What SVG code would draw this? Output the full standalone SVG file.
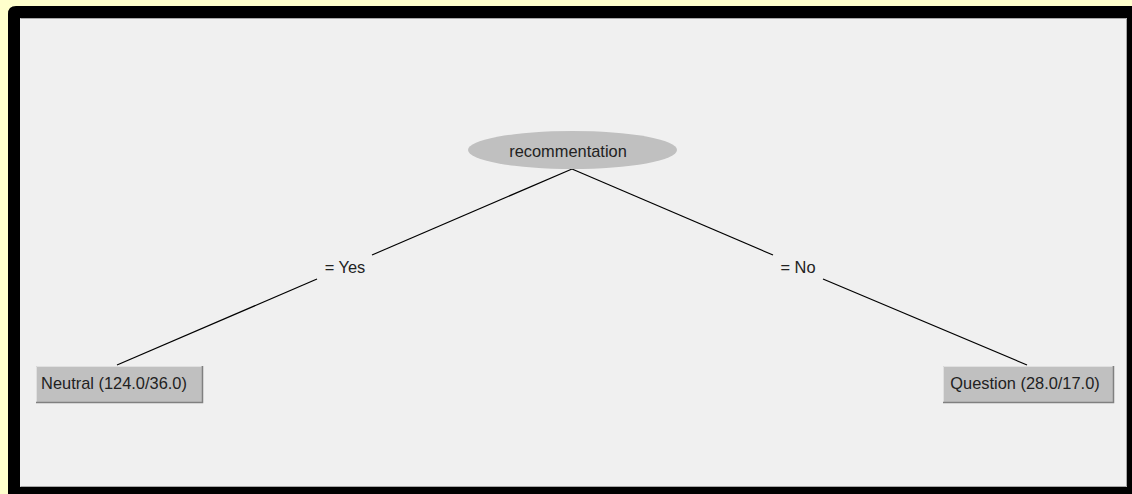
<svg xmlns="http://www.w3.org/2000/svg" width="1132" height="494" viewBox="0 0 1132 494">
  <style>
    .t { font-family: "Liberation Sans", Arial, sans-serif; font-size: 16.4px; fill: #222222; text-anchor: middle; }
    .edge { stroke: #000000; stroke-width: 1.2; fill: none; }
    .leaf { fill: #c0c0c0; }
  </style>
  <rect x="0" y="0" width="1132" height="494" fill="#ffffcc"/>
  <path d="M8 14 Q8 6 16 6 H1132 V494 H8 Z" fill="#000000"/>
  <rect x="20" y="18" width="1107" height="469" fill="#f0f0f0"/>
  <path d="M20.5 18.5 H1126.5 V486.5 H20.5" fill="none" stroke="#a8a8a8" stroke-width="1"/>

  <g id="connectors">
    <line class="edge" x1="572" y1="169" x2="372" y2="255"/>
    <line class="edge" x1="317" y1="279" x2="117" y2="365"/>
    <line class="edge" x1="572" y1="169" x2="773" y2="255"/>
    <line class="edge" x1="823" y1="279" x2="1027" y2="365"/>
    <text class="t" x="345" y="273">= Yes</text>
    <text class="t" x="798" y="273">= No</text>
  </g>

  <g id="node-root">
    <ellipse cx="572.5" cy="150" rx="104.5" ry="19" fill="#c0c0c0"/>
    <text class="t" x="568" y="157">recommentation</text>
  </g>

  <g id="node-neutral">
    <rect class="leaf" x="36" y="366" width="166" height="37"/>
    <path d="M36.5 402.5 V366.5 H201.5" fill="none" stroke="#e0e0e0" stroke-width="1"/>
    <path d="M36 402.5 H202.5 V366" fill="none" stroke="#808080" stroke-width="1.5"/>
    <text class="t" x="114" y="389">Neutral (124.0/36.0)</text>
  </g>

  <g id="node-question">
    <rect class="leaf" x="943" y="366" width="170" height="37"/>
    <path d="M943.5 402.5 V366.5 H1112.5" fill="none" stroke="#e0e0e0" stroke-width="1"/>
    <path d="M943 402.5 H1113.5 V366" fill="none" stroke="#808080" stroke-width="1.5"/>
    <text class="t" x="1025" y="389">Question (28.0/17.0)</text>
  </g>
</svg>
